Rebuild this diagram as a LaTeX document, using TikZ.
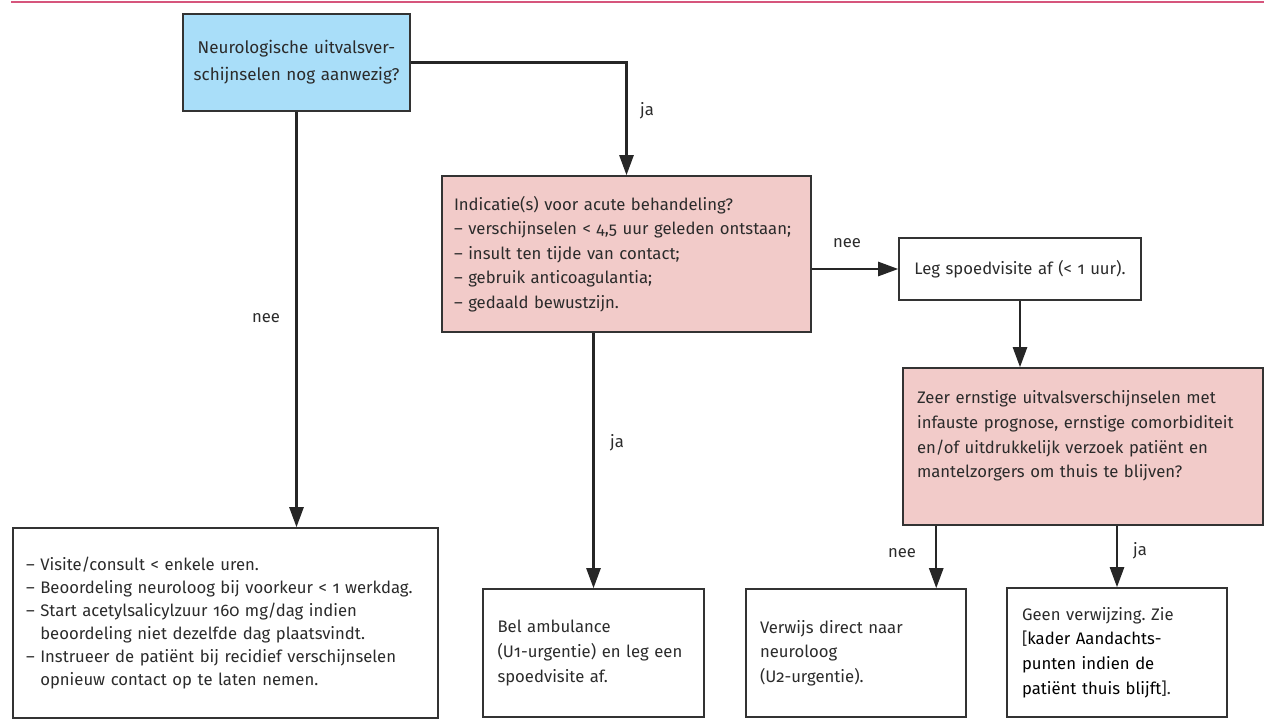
\documentclass[tikz,border=0pt]{standalone}
\usepackage{fontspec}
\setmainfont{Fira Sans}[Numbers=OldStyle]
\frenchspacing
\usetikzlibrary{arrows.meta}
\definecolor{kaderblauw}{HTML}{A9DEF9}
\definecolor{kaderrood}{HTML}{F2CBC9}
\definecolor{lijnrood}{HTML}{D6557C}
\definecolor{tekstgrijs}{HTML}{2B2B2B}
\tikzset{
    mynode/.style = {rectangle, draw=black!80, line width=0.9pt, align=left, inner sep=0pt, text=tekstgrijs, font=\fontsize{9.5}{14}\selectfont},
    mynodeb/.style = {mynode, fill=kaderblauw, align=center, font=\fontsize{9.7}{15.5}\selectfont},
    mynoder/.style = {mynode, fill=kaderrood},
    edgen/.style = {-{Triangle[length=0.4cm,width=0.28cm]}, line width=1.4pt, draw=black!85},
    lbl/.style = {text=tekstgrijs, inner sep=0pt, font=\fontsize{9.5}{11}\selectfont},
    kopregel/.style = {line width=1.6pt, draw=lijnrood}
}
\begin{document}
\begin{tikzpicture}[x=0.02cm, y=-0.02cm]
  \useasboundingbox (0,0) rectangle (1264,720);
  \draw[kopregel] (11,2) -- (1264,2);

  % vragen
  \node[mynodeb, minimum width=4.54cm, minimum height=1.94cm, text width=4.3cm] (a) at (296.5,62.5)
    {Neurologische uitvalsver-\\schijnselen nog aanwezig?};
  \node[mynoder, minimum width=7.38cm, minimum height=3.12cm, text width=6.9cm] (c) at (626.5,254)
    {Indicatie(s) voor acute behandeling?\\– verschijnselen < 4,5 uur geleden ontstaan;\\– insult ten tijde van contact;\\– gebruik anticoagulantia;\\– gedaald bewustzijn.};
  \node[mynode, minimum width=4.84cm, minimum height=1.24cm, text width=4.4cm, align=center] (d) at (1020,269)
    {Leg spoedvisite af (< 1 uur).};
  \node[mynoder, minimum width=7.2cm, minimum height=3.14cm, text width=6.64cm] (e) at (1083,446.5)
    {Zeer ernstige uitvalsverschijnselen met\\infauste prognose, ernstige comorbiditeit\\en/of uitdrukkelijk verzoek patiënt en\\mantelzorgers om thuis te blijven?\\\mbox{}};

  % uitkomsten
  \node[mynode, minimum width=8.5cm, minimum height=3.8cm, text width=7.98cm, font=\fontsize{9.5}{13}\selectfont] (f) at (225.5,623)
    {– Visite/consult < enkele uren.\\– Beoordeling neuroloog bij voorkeur < 1 werkdag.\\– Start acetylsalicylzuur 160 mg/dag indien\\\phantom{– }beoordeling niet dezelfde dag plaatsvindt.\\– Instrueer de patiënt bij recidief verschijnselen\\\phantom{– }opnieuw contact op te laten nemen.};
  \node[mynode, minimum width=4.42cm, minimum height=2.56cm, text width=3.84cm] (g) at (593.5,653)
    {Bel ambulance\\(U1-urgentie) en leg een\\spoedvisite af.};
  \node[mynode, minimum width=4.4cm, minimum height=2.56cm, text width=3.84cm] (h) at (856,653)
    {Verwijs direct naar\\neuroloog\\(U2-urgentie).};
  \node[mynode, minimum width=4.4cm, minimum height=2.58cm, text width=3.8cm] (i) at (1117,652.5)
    {Geen verwijzing. Zie\\{}[\textcolor{black}{kader Aandachts-}\\\textcolor{black}{punten indien de}\\\textcolor{black}{patiënt thuis blijft}].};

  \draw[edgen] (a.south) -- (a.south |- f.north);
  \draw[edgen] (a.east) -| (c.north);
  \draw[edgen] (g.north |- c.south) -- (g.north);
  \draw[edgen] (c.east |- d.west) -- (d.west);
  \draw[edgen] (d.south) -- (d.south |- e.north);
  \draw[edgen] ([xshift=0.68cm]e.south west) -- ([xshift=0.68cm]e.south west |- h.north);
  \draw[edgen] (i.north |- e.south) -- (i.north);

  \node[lbl] (nee1) at (266,318) {nee};
  \node[lbl] (ja1) at (647,111) {ja};
  \node[lbl] (ja2) at (617,443) {ja};
  \node[lbl] (nee2) at (847,243) {nee};
  \node[lbl] (nee3) at (902,553) {nee};
  \node[lbl] (ja3) at (1140,551) {ja};
\end{tikzpicture}
\end{document}
